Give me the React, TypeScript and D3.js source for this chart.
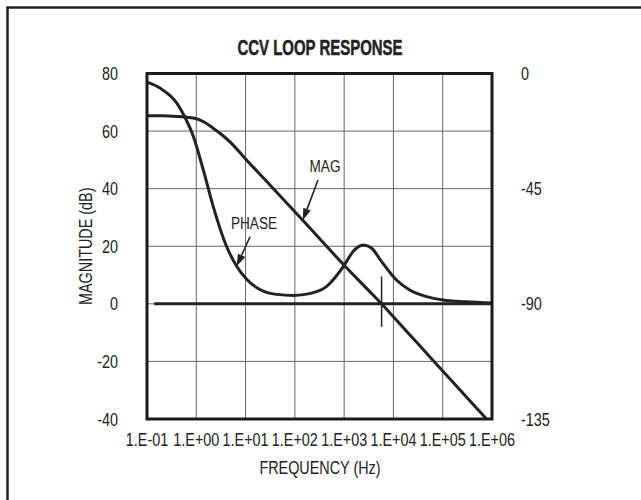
import React from "react";
import * as d3 from "d3";

const title = "CCV LOOP RESPONSE";
const xTitle = "FREQUENCY (Hz)";
const yTitle = "MAGNITUDE (dB)";
const freqTicks = [0.1, 1, 10, 100, 1000, 10000, 100000, 1000000];
const freqTickLabels = ["1.E-01", "1.E+00", "1.E+01", "1.E+02", "1.E+03", "1.E+04", "1.E+05", "1.E+06"];
const magTicks = [80, 60, 40, 20, 0, -20, -40];
const phaseTicks = [0, -45, -90, -135];

const magFreq = [0.1, 0.2, 0.4, 1, 1.5, 2.2, 3.16, 5, 10, 31.6, 100, 316, 1000, 3160, 5750, 10000, 31600, 100000, 316000, 776000];
const magDb = [65.3, 65.3, 65.1, 64.3, 63.0, 61.0, 59.0, 56.0, 50.3, 41.2, 32.0, 22.7, 13.4, 4.6, 0, -4.5, -13.9, -23.3, -32.7, -40];

const phaseFreq = [0.1, 0.18, 0.4, 0.55, 0.87, 1.38, 2.2, 4.1, 6.6, 10.5, 19.5, 42.7, 93, 200, 436, 1000, 1510, 2450, 3630, 5750, 11500, 21400, 46800, 102000, 295000, 1000000];
const phaseDeg = [-3.4, -5.6, -11.5, -16, -24.5, -37.5, -51.9, -67.5, -75.3, -80.4, -84.4, -86.3, -86.7, -86, -83.3, -75, -69.6, -67, -68.3, -73.5, -80.7, -84.6, -87.2, -88.5, -89.2, -89.7];

const refFreq = [0.14, 1000000];
const refPhase = [-90, -90];

const crossFreq = [5750, 5750];
const crossDb = [9.5, -8];

function CText(props: any) {
  const { x, y, anchor = "middle", size = 18, weight = "normal", sx = 0.8, rotate = 0, stroke, children } = props;
  return (
    <text
      transform={`translate(${x},${y}) rotate(${rotate}) scale(${sx},1)`}
      textAnchor={anchor}
      fontSize={size}
      fontWeight={weight}
      fontFamily="'Liberation Sans', Arial, sans-serif"
      fill="#222"
      stroke={stroke ? "#222" : "none"}
      strokeWidth={stroke || 0}
    >
      {children}
    </text>
  );
}

function Arrow({ x1, y1, x2, y2 }: any) {
  const ang = Math.atan2(y2 - y1, x2 - x1);
  const L = 12, W = 4;
  const bx = x2 - L * Math.cos(ang), by = y2 - L * Math.sin(ang);
  const p1 = [bx + W * Math.sin(ang), by - W * Math.cos(ang)];
  const p2 = [bx - W * Math.sin(ang), by + W * Math.cos(ang)];
  return (
    <g>
      <line x1={x1} y1={y1} x2={bx} y2={by} stroke="#222" strokeWidth={1.6} />
      <polygon points={`${x2},${y2} ${p1[0]},${p1[1]} ${p2[0]},${p2[1]}`} fill="#222" />
    </g>
  );
}

export default function App() {
  const W = 641, H = 500;
  const left = 147, right = 492, top = 73.5, bottom = 419;
  const x = d3.scaleLog().domain([0.1, 1000000]).range([left, right]);
  const y = d3.scaleLinear().domain([-40, 80]).range([bottom, top]);
  const yp = d3.scaleLinear().domain([-135, 0]).range([bottom, top]);

  const magLine = d3.line<number>().x((_, i) => x(magFreq[i])).y((d) => y(d)).curve(d3.curveMonotoneX);
  const phaseLine = d3.line<number>().x((_, i) => x(phaseFreq[i])).y((d) => yp(d)).curve(d3.curveMonotoneX);

  const magAt = (f: number) => {
    const i = d3.bisector((v: number) => v).left(magFreq, f);
    const f0 = magFreq[i - 1], f1 = magFreq[i];
    const t = (Math.log10(f) - Math.log10(f0)) / (Math.log10(f1) - Math.log10(f0));
    return magDb[i - 1] + t * (magDb[i] - magDb[i - 1]);
  };
  const phAt = (f: number) => {
    const i = d3.bisector((v: number) => v).left(phaseFreq, f);
    const f0 = phaseFreq[i - 1], f1 = phaseFreq[i];
    const t = (Math.log10(f) - Math.log10(f0)) / (Math.log10(f1) - Math.log10(f0));
    return phaseDeg[i - 1] + t * (phaseDeg[i] - phaseDeg[i - 1]);
  };

  const magTipF = 145;
  const phTipF = 6.6;

  return (
    <svg width={W} height={H} style={{ position: "absolute", left: 0, top: 0, background: "#fff" }}>
      <rect x={0} y={0} width={W} height={H} fill="#fff" />
      <rect x={7.5} y={7.5} width={W + 20} height={H + 20} fill="none" stroke="#222" strokeWidth={2.5} />

      <CText x={320} y={55} size={22} weight="bold" sx={0.68} stroke={0.5}>{title}</CText>

      {freqTicks.map((f) => (
        <line key={"gx" + f} x1={x(f)} x2={x(f)} y1={top} y2={bottom} stroke="#666" strokeWidth={1} />
      ))}
      {magTicks.map((m) => (
        <line key={"gy" + m} x1={left} x2={right} y1={y(m)} y2={y(m)} stroke="#666" strokeWidth={1} />
      ))}

      <path
        d={d3.line<number>().x((_, i) => x(refFreq[i])).y((d) => yp(d))(refPhase) || ""}
        fill="none"
        stroke="#222"
        strokeWidth={3}
      />
      <path d={magLine(magDb) || ""} fill="none" stroke="#222" strokeWidth={3} />
      <path d={phaseLine(phaseDeg) || ""} fill="none" stroke="#222" strokeWidth={3} />
      <line x1={x(crossFreq[0])} x2={x(crossFreq[1])} y1={y(crossDb[0])} y2={y(crossDb[1])} stroke="#222" strokeWidth={1.5} />

      <rect x={left} y={top} width={right - left} height={bottom - top} fill="none" stroke="#1a1a1a" strokeWidth={3} />

      {magTicks.map((m) => (
        <CText key={"ml" + m} x={118} y={y(m) + 6.5} anchor="end">{String(m)}</CText>
      ))}
      {phaseTicks.map((p) => (
        <CText key={"pl" + p} x={521} y={yp(p) + 6.5} anchor="start">{String(p)}</CText>
      ))}
      {freqTicks.map((f, i) => (
        <CText key={"fl" + f} x={x(f)} y={446}>{freqTickLabels[i]}</CText>
      ))}
      <CText x={320} y={474}>{xTitle}</CText>
      <CText x={92} y={(top + bottom) / 2} rotate={-90}>{yTitle}</CText>

      <CText x={325} y={172} size={17}>MAG</CText>
      <Arrow x1={x(295)} y1={y(43)} x2={x(magTipF)} y2={y(magAt(magTipF))} />
      <CText x={254} y={229} size={17}>PHASE</CText>
      <Arrow x1={x(12.3)} y1={y(23.3)} x2={x(phTipF)} y2={yp(phAt(phTipF))} />
    </svg>
  );
}
